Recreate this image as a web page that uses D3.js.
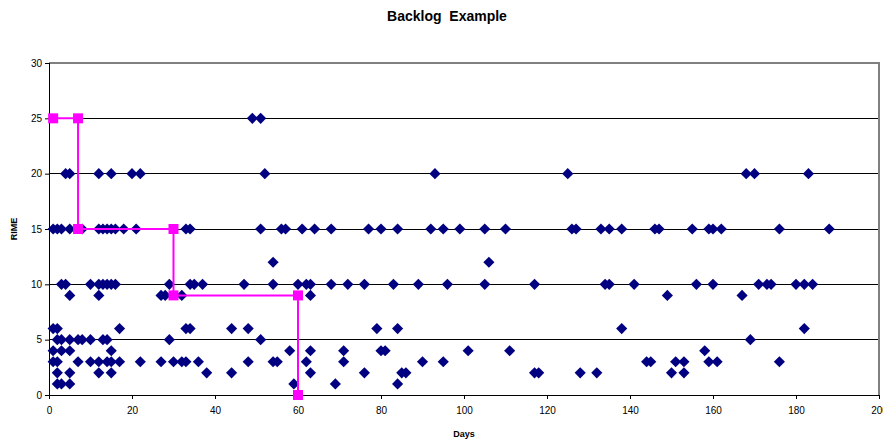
<!DOCTYPE html>
<html>
<head>
<meta charset="utf-8">
<script src="https://cdn.jsdelivr.net/npm/d3@7"></script>
<style>
  body { margin: 0; background: #fff; }
  svg { font-family: "Liberation Sans", Arial, sans-serif; }
</style>
</head>
<body>
<div id="chart"></div>
<script>
// days at which a backlog item with a given RIME value sits
var rime25 = [49, 51];
var rime20 = [4, 5, 12, 15, 20, 22, 52, 93, 125, 168, 170, 183];
var rime15 = [1, 2, 3, 5, 8, 12, 13, 14, 15, 16, 18, 21, 33, 34, 51, 56, 57, 61, 64, 68, 77, 80, 84, 92, 95, 99,
    105, 110, 126, 127, 133, 135, 138, 146, 147, 155, 159, 160, 162, 176, 188];
var rime12 = [54, 106];
var rime10 = [3, 4, 10, 12, 13, 14, 15, 16, 29, 34, 35, 37, 47, 54, 60, 62, 63, 68, 72, 76, 83, 89, 96, 105, 117,
    134, 135, 141, 156, 160, 171, 173, 174, 180, 182, 184];
var rime9 = [5, 12, 27, 28, 32, 63, 149, 167];
var rime6 = [1, 2, 17, 33, 34, 44, 48, 79, 84, 138, 182];
var rime5 = [2, 3, 5, 7, 8, 10, 13, 14, 29, 51, 169];
var rime4 = [1, 3, 5, 15, 58, 63, 71, 80, 81, 101, 111, 158];
var rime3 = [1, 2, 7, 10, 12, 14, 15, 17, 22, 27, 30, 32, 33, 36, 48, 54, 55, 62, 71, 90, 95, 144, 145, 151, 153,
    159, 161, 176];
var rime2 = [2, 5, 12, 15, 38, 44, 63, 76, 85, 86, 117, 118, 128, 132, 150, 153];
var rime1 = [2, 3, 5, 59, 69, 84];

// the step line
var stepDays = [1, 7, 7, 30, 30, 60, 60];
var stepRime = [25, 25, 15, 15, 9, 9, 0];

var xTicks = [0, 20, 40, 60, 80, 100, 120, 140, 160, 180, 200];
var yTicks = [0, 5, 10, 15, 20, 25, 30];

var levels = [[25, rime25], [20, rime20], [15, rime15], [12, rime12], [10, rime10], [9, rime9],
    [6, rime6], [5, rime5], [4, rime4], [3, rime3], [2, rime2], [1, rime1]];
var items = [];
levels.forEach(function (l) {
    l[1].forEach(function (d) { items.push({ day: d, rime: l[0] }); });
});
var step = stepDays.map(function (d, i) { return { day: d, rime: stepRime[i] }; });

var width = 883, height = 441;
var x = d3.scaleLinear().domain([0, 200]).range([49, 879]);
var y = d3.scaleLinear().domain([0, 30]).range([395, 63]);

var svg = d3.select("#chart").append("svg")
    .attr("width", width)
    .attr("height", height);

svg.append("text")
    .attr("x", 447).attr("y", 21)
    .attr("text-anchor", "middle")
    .style("font-size", "14px").style("font-weight", "bold")
    .style("white-space", "pre")
    .text("Backlog\u00a0 Example");

// gridlines
svg.append("g").selectAll("line")
    .data(yTicks.filter(function (t) { return t > 0 && t < 30; }))
    .enter().append("line")
    .attr("x1", x(0)).attr("x2", x(200))
    .attr("y1", function (d) { return y(d); })
    .attr("y2", function (d) { return y(d); })
    .attr("stroke", "#000")
    .attr("shape-rendering", "crispEdges");

// grey frame top and right
svg.append("path")
    .attr("d", "M" + x(0) + "," + y(30) + "H" + x(200) + "V" + y(0))
    .attr("fill", "none").attr("stroke", "#808080").attr("stroke-width", 1.5)
    .attr("shape-rendering", "crispEdges");

var yAxis = svg.append("g")
    .attr("transform", "translate(" + x(0) + ",0)")
    .call(d3.axisLeft(y).tickValues(yTicks).tickSize(4).tickPadding(3));
var xAxis = svg.append("g")
    .attr("transform", "translate(0," + y(0) + ")")
    .call(d3.axisBottom(x).tickValues(xTicks).tickSize(4).tickPadding(8));

[xAxis, yAxis].forEach(function (a) {
    a.select(".domain").attr("stroke", "#000").attr("stroke-width", 1.5).attr("shape-rendering", "crispEdges");
    a.selectAll(".tick line").attr("stroke", "#000");
    a.selectAll("text").style("font-size", "10px").attr("fill", "#000")
        .style("font-family", "'Liberation Sans', Arial, sans-serif");
});

svg.append("text")
    .attr("x", 464).attr("y", 437)
    .attr("text-anchor", "middle")
    .style("font-size", "9px").style("font-weight", "bold")
    .text("Days");

svg.append("text")
    .attr("transform", "translate(17,229)rotate(-90)")
    .attr("text-anchor", "middle")
    .style("font-size", "9px").style("font-weight", "bold")
    .text("RIME");

// backlog items
svg.append("g").selectAll("path")
    .data(items)
    .enter().append("path")
    .attr("d", d3.symbol().type(d3.symbolSquare).size(62))
    .attr("transform", function (d) {
        return "translate(" + x(d.day) + "," + y(d.rime) + ")rotate(45)";
    })
    .attr("fill", "#000080");

// step line with squares
var line = d3.line()
    .x(function (d) { return x(d.day); })
    .y(function (d) { return y(d.rime); });
svg.append("path")
    .datum(step)
    .attr("d", line)
    .attr("fill", "none")
    .attr("stroke", "#ff00ff")
    .attr("stroke-width", 2);
svg.append("g").selectAll("path")
    .data(step)
    .enter().append("path")
    .attr("d", d3.symbol().type(d3.symbolSquare).size(100))
    .attr("transform", function (d) {
        return "translate(" + x(d.day) + "," + y(d.rime) + ")";
    })
    .attr("fill", "#ff00ff");
</script>
</body>
</html>
